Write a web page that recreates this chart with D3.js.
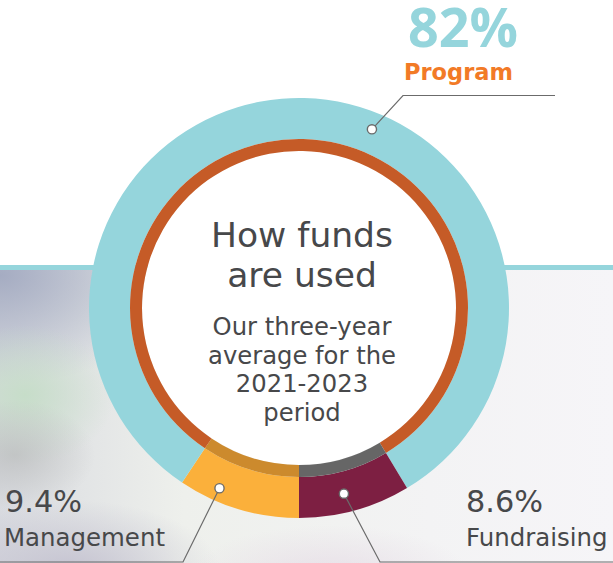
<!DOCTYPE html>
<html>
<head>
<meta charset="utf-8">
<script src="https://cdn.jsdelivr.net/npm/d3@7"></script>
<style>
  html, body { margin: 0; padding: 0; background: #fff; }
  svg { display: block; }
</style>
</head>
<body>
<div id="chart"></div>
<script>
//***************** data *******************/
var categories = ["Management", "Program", "Fundraising"];
var values = [9.4, 82, 8.6];
var valueLabels = ["9.4%", "82%", "8.6%"];
var outerColors = ["#fbb03b", "#95d5dc", "#7d1f42"];
var innerColors = ["#cc8a2d", "#c55b27", "#666666"];
var titleLines = ["How funds", "are used"];
var subtitleLines = ["Our three-year", "average for the", "2021-2023", "period"];

//************* set dimensions ***************/
var width = 613, height = 563;
var cx = 299, cy = 308;
var rOuter = 210, rMid = 169, rInner = 157;

var svg = d3.select("#chart")
  .append("svg")
    .attr("width", width)
    .attr("height", height);

//***************** background *******************/
var defs = svg.append("defs");

defs.append("clipPath").attr("id", "photoClip")
  .append("rect").attr("x", 0).attr("y", 270).attr("width", width).attr("height", height - 270);

var base = defs.append("linearGradient").attr("id", "bgBase")
  .attr("x1", 0).attr("y1", 0).attr("x2", 1).attr("y2", 0);
base.append("stop").attr("offset", 0).attr("stop-color", "#d9dbe0");
base.append("stop").attr("offset", 0.3).attr("stop-color", "#eef0ec");
base.append("stop").attr("offset", 0.7).attr("stop-color", "#f3f3f4");
base.append("stop").attr("offset", 1).attr("stop-color", "#f6f5f8");

function blob(id, color, op) {
  var g = defs.append("radialGradient").attr("id", id);
  g.append("stop").attr("offset", 0).attr("stop-color", color).attr("stop-opacity", op);
  g.append("stop").attr("offset", 1).attr("stop-color", color).attr("stop-opacity", 0);
}
blob("lav", "#a5acc2", 1);
blob("green", "#c4ddc6", 0.9);
blob("grey", "#b9bbbb", 0.7);
blob("lavB", "#c2c0cf", 0.9);
blob("pink", "#e4d8e4", 0.7);

var photo = svg.append("g").attr("clip-path", "url(#photoClip)");
photo.append("rect")
  .attr("x", 0).attr("y", 270).attr("width", width).attr("height", height - 270)
  .attr("fill", "url(#bgBase)");
photo.append("ellipse").attr("cx", 0).attr("cy", 275).attr("rx", 180).attr("ry", 110).attr("fill", "url(#lav)");
photo.append("ellipse").attr("cx", 25).attr("cy", 395).attr("rx", 90).attr("ry", 70).attr("fill", "url(#green)");
photo.append("ellipse").attr("cx", 15).attr("cy", 455).attr("rx", 80).attr("ry", 55).attr("fill", "url(#grey)");
photo.append("ellipse").attr("cx", 70).attr("cy", 570).attr("rx", 150).attr("ry", 70).attr("fill", "url(#lavB)");
photo.append("ellipse").attr("cx", 330).attr("cy", 575).attr("rx", 140).attr("ry", 50).attr("fill", "url(#pink)");

// teal rule
svg.append("rect")
  .attr("x", 0).attr("y", 265).attr("width", width).attr("height", 5)
  .attr("fill", "#95d5dc");

//***************** donut *******************/
var pie = d3.pie().sort(null).value(function(d) { return d; })
  .startAngle(Math.PI).endAngle(3 * Math.PI);
var arcs = pie(values);

var outerArc = d3.arc().innerRadius(rMid).outerRadius(rOuter);
var innerArc = d3.arc().innerRadius(rInner).outerRadius(rMid);

var donut = svg.append("g").attr("transform", "translate(" + cx + "," + cy + ")");

donut.append("circle").attr("r", rInner).attr("fill", "#fff");

donut.selectAll("path.outer")
  .data(arcs)
  .enter().append("path")
    .attr("class", "outer")
    .attr("d", outerArc)
    .attr("fill", function(d, i) { return outerColors[i]; });

donut.selectAll("path.inner")
  .data(arcs)
  .enter().append("path")
    .attr("class", "inner")
    .attr("d", innerArc)
    .attr("fill", function(d, i) { return innerColors[i]; });

//***************** text helpers *******************/
var textColor = "#47484a";
var regular = "DejaVu Sans, sans-serif";

// scale font size so a text gets the target width
function fitSize(txt, family, weight, target) {
  var probe = svg.append("text")
    .attr("font-family", family).attr("font-weight", weight)
    .attr("font-size", "40px").text(txt);
  var w = probe.node().getComputedTextLength();
  probe.remove();
  return 40 * target / w;
}

function label(x, y, txt, family, weight, size, fill, anchor) {
  return svg.append("text")
    .attr("x", x).attr("y", y)
    .attr("text-anchor", anchor || "start")
    .attr("font-family", family)
    .attr("font-weight", weight)
    .attr("font-size", size + "px")
    .attr("fill", fill)
    .text(txt);
}

//***************** center text *******************/
var titleSize = fitSize(titleLines[0], regular, 400, 182);
titleLines.forEach(function(t, i) {
  label(302, 247 + i * 39.5, t, regular, 400, titleSize, textColor, "middle");
});

var subSize = fitSize(subtitleLines[0], regular, 400, 179);
subtitleLines.forEach(function(t, i) {
  label(302, 335 + i * 28.5, t, regular, 400, subSize, textColor, "middle");
});

//***************** leaders *******************/
function dotPos(deg, r) {
  var a = deg * Math.PI / 180;
  return [cx + r * Math.sin(a), cy - r * Math.cos(a)];
}
var leaders = [
  { deg: 203.8, r: 197, path: function(p) { return [p, [183, 562], [0, 562]]; } },
  { deg: 22.2,  r: 193, path: function(p) { return [p, [403, 95.5], [555, 95.5]]; } },
  { deg: 166.4, r: 191, path: function(p) { return [p, [380, 562], [613, 562]]; } }
];
var line = d3.line();
leaders.forEach(function(l) {
  var p = dotPos(l.deg, l.r);
  svg.append("path")
    .attr("d", line(l.path(p)))
    .attr("fill", "none")
    .attr("stroke", "#6b6b6b")
    .attr("stroke-width", 1.2);
  svg.append("circle")
    .attr("cx", p[0]).attr("cy", p[1]).attr("r", 4.6)
    .attr("fill", "#fff")
    .attr("stroke", "#6b6b6b")
    .attr("stroke-width", 1.4);
});

//***************** labels *******************/
// Program
label(463, 47, valueLabels[1], "Open Sans, sans-serif", 700,
      fitSize(valueLabels[1], "Open Sans, sans-serif", 700, 110), outerColors[1], "middle");
label(458.5, 80, categories[1], regular, 700,
      fitSize(categories[1], regular, 700, 109), "#f27a26", "middle");

// Management / Fundraising
var pctSize = fitSize(valueLabels[0], regular, 400, 77);
var catSize = fitSize(categories[0], regular, 400, 161);
label(5, 512, valueLabels[0], regular, 400, pctSize, textColor);
label(4, 546, categories[0], regular, 400, catSize, textColor);
label(466, 512, valueLabels[2], regular, 400, pctSize, textColor);
label(466, 546, categories[2], regular, 400, catSize, textColor);
</script>
</body>
</html>
